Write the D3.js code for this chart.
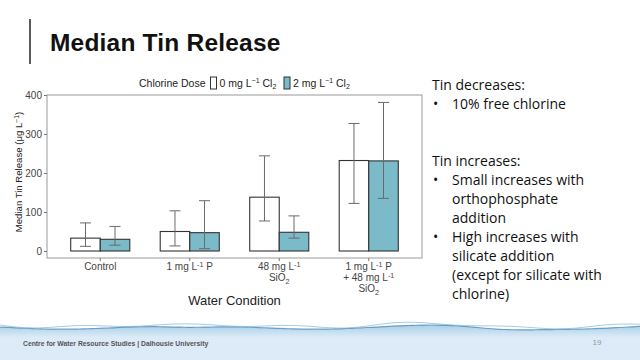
<!DOCTYPE html>
<html><head><meta charset="utf-8">
<script src="https://cdn.jsdelivr.net/npm/d3@7"></script>
<style>
html,body{margin:0;padding:0;background:#fff;}
svg{display:block;}
</style></head>
<body><svg id="c" width="640" height="360"></svg>
<script>
const categories = ["Control", "1 mg L-1 P", "48 mg L-1 SiO2", "1 mg L-1 P + 48 mg L-1 SiO2"];
const series = ["0 mg", "2 mg"];
const median0 = [33, 50, 138, 232];
const median2 = [30, 47, 48, 231];
const low0 = [12, 13, 77, 122];
const high0 = [72, 103, 244, 327];
const low2 = [15, 6, 33, 135];
const high2 = [63, 129, 90, 381];
const yTicks = [0, 100, 200, 300, 400];

const svg = d3.select("#c");
const font = "Liberation Sans, Arial, sans-serif";

// footer band with water wave
const defs = svg.append("defs");
const g1 = defs.append("linearGradient").attr("id","wave").attr("x1",0).attr("x2",0).attr("y1",0).attr("y2",1);
g1.append("stop").attr("offset","0").attr("stop-color","#a9cfe8");
g1.append("stop").attr("offset","0.35").attr("stop-color","#dcebf7");
g1.append("stop").attr("offset","1").attr("stop-color","#dcebf7");
const wavePts = d3.range(0, 641, 8).map(x => [x, 327 + 2.2*Math.sin(x/40) + 2.5*Math.exp(-Math.pow((x-190)/40,2)) + 2.5*Math.exp(-Math.pow((x-500)/40,2))]);
const line = d3.line().curve(d3.curveBasis);
svg.append("path").attr("d", line(wavePts) + "L640,360L0,360Z").attr("fill","url(#wave)");
svg.append("path").attr("d", line(wavePts)).attr("fill","none").attr("stroke","#3f7fae").attr("stroke-width",1.2).attr("opacity",0.7);
svg.append("path").attr("d", line(wavePts.map(p=>[p[0], p[1]-2 + 1.5*Math.sin(p[0]/17)]))).attr("fill","none").attr("stroke","#7fb6dc").attr("stroke-width",1).attr("opacity",0.7);

svg.append("text").attr("x",23).attr("y",346).attr("font-family",font).attr("font-weight","bold")
  .attr("font-size",6.8).attr("fill","#555").text("Centre for Water Resource Studies | Dalhousie University");
svg.append("text").attr("x",597).attr("y",345).attr("text-anchor","middle").attr("font-family",font)
  .attr("font-size",8).attr("fill","#999").text("19");

// Title
svg.append("line").attr("x1",30).attr("x2",30).attr("y1",19).attr("y2",64).attr("stroke","#222").attr("stroke-width",1.5);
svg.append("text").attr("x",50).attr("y",51).attr("font-family",font).attr("font-weight","bold")
  .attr("font-size",24.5).attr("letter-spacing",0.2).attr("fill","#111").text("Median Tin Release");

// Chart
const panel = {l:47, r:422, t:95, b:258};
const y = d3.scaleLinear().domain([0,400]).range([251,95]);
const x = d3.scaleBand().domain(categories).range([panel.l, panel.r]).paddingOuter(0.095).paddingInner(0);
const barW = x.bandwidth()*0.33;
const colors = ["#ffffff", "#7abac9"];
const data = categories.map((c,i)=>[
  {c, s:0, m:median0[i], lo:low0[i], hi:high0[i]},
  {c, s:1, m:median2[i], lo:low2[i], hi:high2[i]}]).flat();

svg.append("rect").attr("x",panel.l).attr("y",panel.t).attr("width",panel.r-panel.l).attr("height",panel.b-panel.t)
  .attr("fill","none").attr("stroke","#9a9a9a").attr("stroke-width",1);

const yAxis = svg.append("g").attr("transform",`translate(${panel.l},0)`)
  .call(d3.axisLeft(y).tickValues(yTicks).tickSize(3).tickPadding(2));
yAxis.select(".domain").remove();
yAxis.selectAll("line").attr("stroke","#777");
yAxis.selectAll("text").attr("font-family",font).attr("font-size",10).attr("fill","#444");

const bx = d => x(d.c) + x.bandwidth()/2 + (d.s===0 ? -barW : 0);
svg.selectAll(".bar").data(data).enter().append("rect")
  .attr("x", bx).attr("width", barW)
  .attr("y", d=>y(d.m)).attr("height", d=>y(0)-y(d.m))
  .attr("fill", d=>colors[d.s]).attr("stroke","#333").attr("stroke-width",1.1);

const ew = 5.5;
const eb = svg.selectAll(".eb").data(data).enter().append("g").attr("stroke","#6a6a6a").attr("stroke-width",1);
eb.append("line").attr("x1",d=>bx(d)+barW/2).attr("x2",d=>bx(d)+barW/2).attr("y1",d=>y(d.lo)).attr("y2",d=>y(d.hi));
eb.append("line").attr("x1",d=>bx(d)+barW/2-ew).attr("x2",d=>bx(d)+barW/2+ew).attr("y1",d=>y(d.lo)).attr("y2",d=>y(d.lo));
eb.append("line").attr("x1",d=>bx(d)+barW/2-ew).attr("x2",d=>bx(d)+barW/2+ew).attr("y1",d=>y(d.hi)).attr("y2",d=>y(d.hi));

// x ticks
svg.selectAll(".xt").data(categories).enter().append("line")
  .attr("x1",d=>x(d)+x.bandwidth()/2).attr("x2",d=>x(d)+x.bandwidth()/2)
  .attr("y1",panel.b).attr("y2",panel.b+3).attr("stroke","#777");

// rich text: lines of parts with sup/sub using dy shifts, all in one text element
function richLines(t, lines, small, cx, lh){
  let shift = 0;
  lines.forEach((parts, j)=>{
    parts.forEach((p, k)=>{
      const target = (p[1]==="sup" ? -3.3 : p[1]==="sub" ? 2.3 : 0) + j*lh;
      const ts = t.append("tspan").text(p[0]).attr("dy", target - shift);
      if(k===0 && cx!==null) ts.attr("x", cx);
      if(p[1]) ts.attr("font-size", small);
      shift = target;
    });
  });
}
const lab = [
  [[["Control"]]],
  [[["1 mg L"],["-1","sup"],[" P"]]],
  [[["48 mg L"],["-1","sup"]],[["SiO"],["2","sub"]]],
  [[["1 mg L"],["-1","sup"],[" P"]],[["+ 48 mg L"],["-1","sup"]],[["SiO"],["2","sub"]]]
];
categories.forEach((c,i)=>{
  const cx = x(c)+x.bandwidth()/2;
  const t = svg.append("text").attr("x",cx).attr("y",270).attr("text-anchor","middle")
    .attr("font-family",font).attr("font-size",10).attr("fill","#444");
  richLines(t, lab[i], 7.2, cx, 11.2);
});

svg.append("text").attr("x",(panel.l+panel.r)/2).attr("y",305).attr("text-anchor","middle")
  .attr("font-family",font).attr("font-size",13).attr("fill","#222").text("Water Condition");

const yl = svg.append("text").attr("transform","translate(22,172) rotate(-90)").attr("text-anchor","middle")
  .attr("font-family",font).attr("font-size",9.6).attr("fill","#222");
richLines(yl, [[["Median Tin Release (μg L"],["−1","sup"],[")"]]], 6.8, null, 0);

// legend
const lg = svg.append("g").attr("font-family",font).attr("font-size",10.5).attr("fill","#222");
lg.append("text").attr("x",139).attr("y",86.5).text("Chlorine Dose");
const legItems = [{x:210.5, s:0},{x:284, s:1}];
legItems.forEach(it=>{
  lg.append("rect").attr("x",it.x).attr("y",77).attr("width",6).attr("height",12)
    .attr("fill",colors[it.s]).attr("stroke","#333").attr("stroke-width",1);
  const t = lg.append("text").attr("x",it.x+9).attr("y",86.5);
  richLines(t, [[[series[it.s]+" L"],["−1","sup"],[" Cl"],["2","sub"]]], 7, null, 0);
});

// right text
const rt = [
  {t:"Tin decreases:", y:90, b:false},
  {t:"10% free chlorine", y:109, b:true},
  {t:"Tin increases:", y:166, b:false},
  {t:"Small increases with", y:185, b:true},
  {t:"orthophosphate", y:204, b:false, ind:true},
  {t:"addition", y:223, b:false, ind:true},
  {t:"High increases with", y:242, b:true},
  {t:"silicate addition", y:261, b:false, ind:true},
  {t:"(except for silicate with", y:280, b:false, ind:true},
  {t:"chlorine)", y:299, b:false, ind:true}
];
const rg = svg.append("g").attr("font-family","Open Sans, sans-serif").attr("font-size",14).attr("fill","#111");
rt.forEach(r=>{
  if(r.b){ rg.append("text").attr("x",433).attr("y",r.y).text("•"); }
  rg.append("text").attr("x",(r.b||r.ind)?452:432).attr("y",r.y).text(r.t);
});
</script></body></html>
